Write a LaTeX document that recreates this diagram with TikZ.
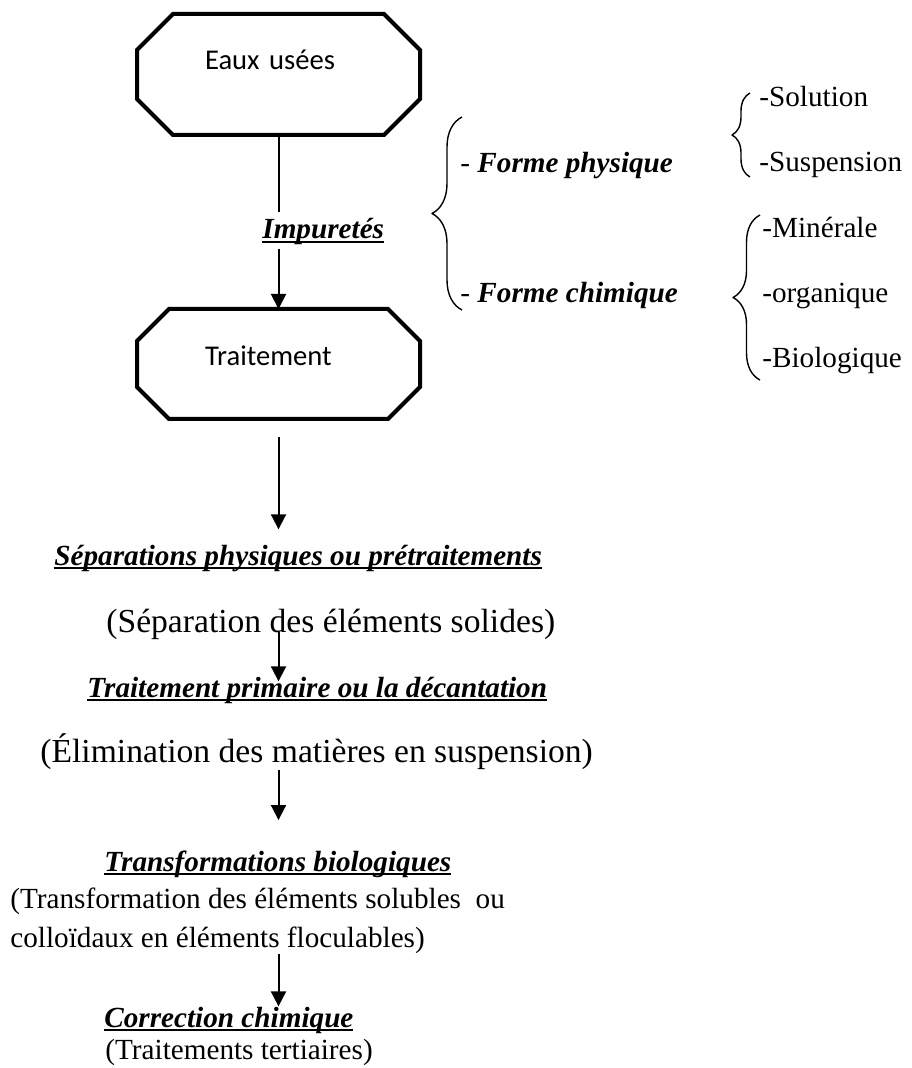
\documentclass[tikz,border=0pt]{standalone}
\usepackage{fontspec}
\setmainfont{Liberation Serif}
\newfontfamily\carlito{Carlito}
\usetikzlibrary{arrows.meta,decorations.pathreplacing}

% underlined bold italic headings
\newcommand{\titre}[1]{\sbox0{\bfseries\itshape #1}\rlap{\rule[-2pt]{\wd0}{1.1pt}}\usebox0}

\begin{document}
\begin{tikzpicture}[
	x=0.5pt, y=-0.5pt,
	line join=round,
	octbox/.style={inner xsep=34pt, inner ysep=0pt, outer sep=0pt, text width=73.5pt, align=left, font=\carlito\fontsize{14.3pt}{17pt}\selectfont},
	octline/.style={line width=2pt, line join=miter},
	txt/.style={anchor=base west, inner sep=0pt, font=\fontsize{14.6pt}{19.5pt}\selectfont},
	bigtxt/.style={txt, font=\fontsize{16.8pt}{20pt}\selectfont},
	flow/.style={-{Triangle[length=7.5pt,width=7.5pt]}, line width=1pt},
	accolade/.style={decorate, decoration={brace, amplitude=#1}, line width=0.7pt}
	]
	
	\useasboundingbox (0,0) rectangle (911,1068);
	
	% Octagons
	\node[octbox, text height=28pt, text depth=32.5pt] (eaux) at (278.5,74.5) {Eaux usées};
	\node[octbox, text height=28.5pt, text depth=26.5pt] (trait) at (278.5,364) {Traitement};
	\foreach \oct/\cut in {eaux/18pt, trait/16pt}
	\draw[octline] ([xshift=\cut]\oct.north west) -- ([xshift=-\cut]\oct.north east) -- ([yshift=-\cut]\oct.north east) -- ([yshift=\cut]\oct.south east) -- ([xshift=-\cut]\oct.south east) -- ([xshift=\cut]\oct.south west) -- ([yshift=\cut]\oct.south west) -- ([yshift=-\cut]\oct.north west) -- cycle;
	
	% Impurities
	\node[txt] (impur) at (262,239) {\titre{Impuretés}};
	\node[txt] (phys) at (460,173) {- \textbf{\textit{Forme physique}}};
	\node[txt] (chim) at (460,303) {- \textbf{\textit{Forme chimique}}};
	\node[txt] (sol) at (759,107) {-Solution};
	\node[txt] (susp) at (759,172) {-Suspension};
	\node[txt] (mine) at (762,238) {-Minérale};
	\node[txt] (orga) at (762,303) {-organique};
	\node[txt] (biol) at (762,368) {-Biologique};
	
	\draw[accolade=15pt] (462,310) -- (462,117);
	\draw[accolade=9pt] (750,177) -- (750,93);
	\draw[accolade=13.5pt] (760,380) -- (760,215);
	
	% Treatment steps
	\node[txt] (sep) at (54,565) {\titre{Séparations physiques ou prétraitements}};
	\node[bigtxt] (sepnote) at (106,632) {(Séparation des éléments solides)};
	\node[txt] (prim) at (87,697) {\titre{Traitement primaire ou la décantation}};
	\node[bigtxt] (primnote) at (40,762) {(Élimination des matières en suspension)};
	\node[txt] (bio) at (104,871) {\titre{Transformations biologiques}};
	\node[txt, align=left] (bionote) at (10,947) {(Transformation des éléments solubles~ ou\\colloïdaux en éléments floculables)};
	\node[txt] (corr) at (104,1027) {\titre{Correction chimique}};
	\node[txt] (corrnote) at (105,1059) {(Traitements tertiaires)};
	
	% Arrows
	\draw[line width=1pt, shorten >=3pt] (eaux.south) -- (eaux.south |- impur.north);
	\draw[flow, shorten <=1.5pt] (trait.north |- impur.south) -- (trait.north);
	\draw[flow, shorten <=9pt, shorten >=7.5pt] (trait.south) -- (trait.south |- sep.north);
	\draw[flow, shorten >=-2.5pt] (trait.south |- sepnote.base) -- (trait.south |- prim.north);
	\draw[flow, shorten >=15pt] (trait.south |- primnote.south) -- (trait.south |- bio.north);
	\draw[flow] (trait.south |- bionote.south) -- (trait.south |- corr.north);
	
\end{tikzpicture}
\end{document}
